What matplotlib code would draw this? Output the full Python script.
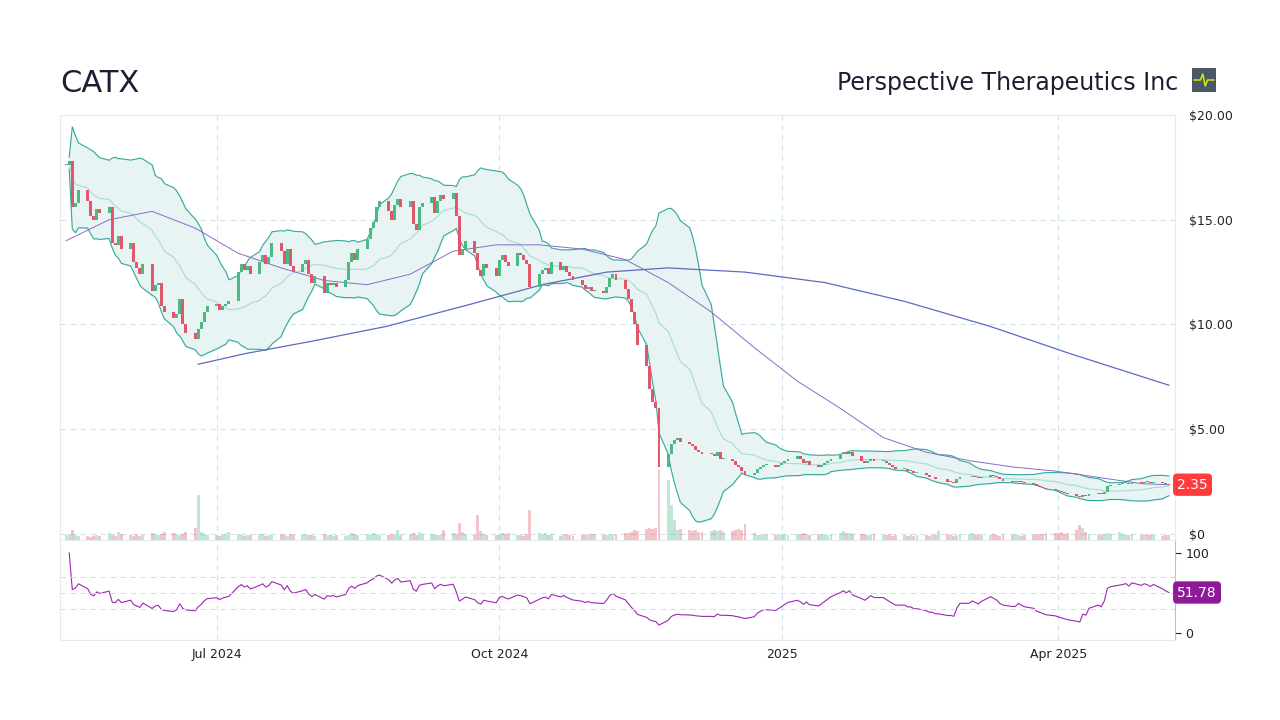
import matplotlib
matplotlib.use("Agg")
import matplotlib.pyplot as plt
import matplotlib.dates as mdates
import numpy as np
import pandas as pd

# --- Data (daily closes) ---
start_date = "2024-05-13"
close_may24 = [17.6, 17.8, 15.6, 15.8, 16.4, 15.9, 15.2, 15.0, 15.5, 15.3, 15.6, 13.9, 13.8, 14.2, 13.6]
close_jun24 = [13.9, 13.0, 12.7, 12.4, 12.9, 11.6, 11.9, 12.0, 10.9, 10.6, 10.3, 10.5, 11.2, 10.0, 9.6, 9.3, 9.8, 10.1, 10.6, 10.9]
close_jul24 = [11.0, 10.7, 10.9, 11.0, 11.1, 12.5, 12.9, 12.6, 12.8, 12.4, 13.0, 13.3, 12.9, 13.2, 13.9, 13.5, 12.9, 13.6, 12.8, 12.5, 12.9, 13.1, 12.4]
close_aug24 = [12.0, 12.3, 11.5, 12.0, 11.9, 12.0, 11.8, 12.1, 13.0, 13.4, 13.1, 13.6, 14.1, 14.6, 14.9, 15.6, 15.9, 15.4, 15.0, 15.7, 16.0, 15.6]
close_sep24 = [15.9, 14.8, 14.5, 15.6, 15.8, 16.1, 15.3, 15.9, 16.2, 16.0, 16.3, 15.2, 13.3, 13.6, 14.0, 13.4, 12.6, 12.3, 12.9, 12.7, 12.3]
close_oct24 = [13.1, 13.3, 13.0, 12.8, 13.4, 13.3, 13.1, 12.9, 11.8, 12.4, 12.6, 12.7, 12.4, 13.0, 12.6, 12.8, 12.5, 12.3, 12.1, 11.9, 11.7, 11.8, 11.6]
close_nov24 = [11.6, 11.5, 11.8, 12.2, 12.4, 12.1, 11.7, 11.2, 10.6, 10.0, 9.0, 8.0, 6.9, 6.3, 6.0, 3.2, 3.8, 4.3, 4.5, 4.6, 4.4]
close_dec24 = [4.3, 4.2, 4.0, 3.9, 3.8, 3.8, 3.7, 3.9, 3.6, 3.6, 3.5, 3.3, 3.2, 3.0, 2.8, 2.9, 3.1, 3.2, 3.3, 3.3, 3.2, 3.3]
close_jan25 = [3.4, 3.5, 3.6, 3.7, 3.6, 3.4, 3.5, 3.3, 3.2, 3.3, 3.4, 3.5, 3.6, 3.8, 3.9, 3.8, 3.9, 3.7, 3.5, 3.4, 3.5, 3.6, 3.5]
close_feb25 = [3.5, 3.4, 3.3, 3.2, 3.1, 3.1, 3.0, 3.0, 2.9, 2.9, 2.8, 2.7, 2.7, 2.6, 2.6, 2.5, 2.5, 2.45, 2.6, 2.7]
close_mar25 = [2.7, 2.75, 2.7, 2.65, 2.7, 2.8, 2.75, 2.7, 2.6, 2.55, 2.5, 2.5, 2.55, 2.5, 2.45, 2.4, 2.3, 2.25, 2.2, 2.15, 2.1]
close_apr25 = [2.05, 2.0, 1.95, 1.9, 1.8, 1.75, 1.85, 1.8, 1.9, 1.95, 1.9, 2.0, 2.3, 2.35, 2.4, 2.42, 2.45, 2.4, 2.5, 2.45, 2.5, 2.48]
close_may25 = [2.45, 2.5, 2.42, 2.38, 2.35]

vol_may24 = [1.0, 1.2, 2.0, 1.1, 0.8, 0.9, 0.7, 0.8, 1.0, 0.9, 1.4, 1.0, 0.8, 1.6, 1.2]
vol_jun24 = [1.0, 0.9, 1.3, 0.8, 1.1, 1.5, 1.2, 1.0, 1.3, 1.7, 1.4, 1.2, 1.0, 1.2, 1.6, 2.4, 9.0, 1.6, 1.2, 1.0]
vol_jul24 = [1.1, 0.9, 1.0, 1.3, 1.6, 1.2, 1.0, 0.9, 1.1, 1.0, 1.3, 1.2, 0.8, 1.1, 1.0, 1.2, 1.0, 0.9, 1.3, 1.1, 1.0, 1.2, 1.1]
vol_aug24 = [1.0, 0.9, 1.2, 1.1, 1.0, 0.9, 1.0, 0.8, 1.1, 1.4, 1.3, 1.1, 1.2, 1.0, 1.4, 1.2, 1.0, 1.1, 1.3, 1.0, 2.0, 1.1]
vol_sep24 = [1.2, 1.4, 1.0, 1.6, 1.3, 1.2, 1.0, 1.1, 1.0, 2.0, 1.4, 1.2, 3.5, 1.6, 1.2, 1.0, 5.0, 1.8, 1.2, 1.0, 1.1]
vol_oct24 = [1.3, 1.4, 1.2, 1.4, 1.0, 1.1, 0.9, 1.2, 6.0, 1.5, 1.1, 1.4, 1.0, 1.2, 0.8, 1.0, 1.3, 1.0, 0.9, 1.1, 1.0, 1.2, 1.3]
vol_nov24 = [1.2, 1.0, 1.1, 1.3, 1.0, 1.2, 1.4, 1.5, 1.6, 2.0, 1.8, 2.2, 2.5, 2.3, 2.4, 14.0, 12.0, 7.0, 4.0, 2.0, 2.3]
vol_dec24 = [2.0, 1.8, 2.1, 1.6, 1.7, 1.9, 2.0, 1.8, 2.1, 1.7, 1.9, 2.0, 2.2, 2.0, 3.2, 1.5, 1.0, 1.1, 1.0, 1.2, 1.1, 1.2]
vol_jan25 = [1.0, 1.2, 1.1, 1.3, 1.2, 1.4, 1.2, 1.1, 1.3, 1.2, 1.1, 1.0, 1.2, 1.4, 1.8, 1.5, 1.4, 1.3, 1.2, 1.3, 1.1, 1.0, 1.2]
vol_feb25 = [1.1, 1.0, 1.2, 0.9, 1.0, 1.1, 0.9, 1.0, 0.8, 1.1, 1.0, 0.9, 1.1, 1.0, 1.8, 1.2, 1.0, 0.9, 1.1, 1.2]
vol_mar25 = [1.2, 1.4, 1.1, 1.2, 1.0, 1.1, 1.2, 1.0, 0.9, 1.0, 1.1, 1.2, 1.0, 0.9, 1.0, 1.1, 1.2, 1.3, 1.2, 1.4, 1.5]
vol_apr25 = [1.4, 1.6, 1.3, 1.5, 2.0, 3.0, 2.4, 1.6, 1.3, 1.2, 1.0, 1.2, 1.5, 1.3, 1.6, 1.2, 1.0, 1.1, 1.2, 1.0, 1.1, 1.2]
vol_may25 = [1.0, 1.1, 0.9, 1.0, 1.0]

# moving averages as shown on the chart (sparse readings)
ma50_dates = ["2024-05-13", "2024-05-27", "2024-06-10", "2024-06-24", "2024-07-08", "2024-07-22",
              "2024-08-05", "2024-08-19", "2024-09-02", "2024-09-16", "2024-09-30", "2024-10-14",
              "2024-10-28", "2024-11-11", "2024-11-25", "2024-12-09", "2024-12-23", "2025-01-06",
              "2025-01-20", "2025-02-03", "2025-02-17", "2025-03-03", "2025-03-17", "2025-03-31",
              "2025-04-14", "2025-04-28", "2025-05-07"]
ma50_vals = [14.0, 15.0, 15.4, 14.6, 13.4, 12.7, 12.1, 11.9, 12.4, 13.5, 13.8, 13.8,
             13.6, 13.1, 12.0, 10.6, 8.9, 7.3, 6.0, 4.6, 3.9, 3.5, 3.2, 3.0, 2.7, 2.4, 2.35]
ma200_dates = ["2024-06-25", "2024-07-10", "2024-08-01", "2024-08-25", "2024-09-20", "2024-10-15",
               "2024-11-05", "2024-11-25", "2024-12-20", "2025-01-15", "2025-02-10", "2025-03-10",
               "2025-04-05", "2025-05-07"]
ma200_vals = [8.1, 8.6, 9.2, 9.9, 10.9, 11.9, 12.5, 12.7, 12.5, 12.0, 11.1, 9.9, 8.6, 7.1]

price_ticks = [0, 5, 10, 15, 20]
price_tick_labels = ["$0", "$5.00", "$10.00", "$15.00", "$20.00"]
x_tick_dates = ["2024-07-01", "2024-10-01", "2025-01-01", "2025-04-01"]
x_tick_labels = ["Jul 2024", "Oct 2024", "2025", "Apr 2025"]
last_price_label = "2.35"
last_rsi_label = "51.78"

close = np.array(close_may24 + close_jun24 + close_jul24 + close_aug24 + close_sep24 + close_oct24
                 + close_nov24 + close_dec24 + close_jan25 + close_feb25 + close_mar25 + close_apr25 + close_may25)
volume = np.array(vol_may24 + vol_jun24 + vol_jul24 + vol_aug24 + vol_sep24 + vol_oct24
                  + vol_nov24 + vol_dec24 + vol_jan25 + vol_feb25 + vol_mar25 + vol_apr25 + vol_may25)
dates = pd.bdate_range(start_date, periods=len(close))
x = mdates.date2num(dates)
opens = np.concatenate([[close[0]], close[:-1]])
up = close >= opens

# indicators
s = pd.Series(close)
mid = s.rolling(20, min_periods=2).mean()
sd = s.rolling(20, min_periods=2).std()
upper = mid + 2 * sd
lower = mid - 2 * sd
delta = s.diff()
gain = delta.clip(lower=0).ewm(alpha=1 / 14, adjust=False).mean()
loss = (-delta.clip(upper=0)).ewm(alpha=1 / 14, adjust=False).mean()
rsi = 100 - 100 / (1 + gain / loss)

GREEN = "#4cb884"
RED = "#e0566a"
TEAL = "#34a89a"
GRID = "#cfe3ea"

fig = plt.figure(figsize=(12.8, 7.2), dpi=100)
ax = fig.add_axes([60 / 1280, 180 / 720, 1115 / 1280, 425 / 720])
axr = fig.add_axes([60 / 1280, 80 / 720, 1115 / 1280, 100 / 720], sharex=ax)
axv = ax.twinx()

# volume
axv.bar(x, volume, width=0.95, color=np.where(up, GREEN, RED), alpha=0.35, linewidth=0)
axv.set_ylim(0, 85)
axv.axis("off")

# bollinger bands
ax.fill_between(x, lower, upper, color="#e8f4f3", zorder=1)
ax.plot(x, upper, color=TEAL, lw=0.8, zorder=2)
ax.plot(x, lower, color=TEAL, lw=0.8, zorder=2)
ax.plot(x, mid, color="#a6dcd2", lw=0.8, zorder=2)

# moving averages
ax.plot(mdates.date2num(pd.to_datetime(ma50_dates)), ma50_vals, color="#8a6bc9", lw=0.7, zorder=3)
ax.plot(mdates.date2num(pd.to_datetime(ma200_dates)), ma200_vals, color="#5c6bc0", lw=0.9, zorder=3)

# candles
body_lo = np.minimum(opens, close)
body_h = np.maximum(np.abs(close - opens), 0.04)
ax.bar(x, body_h, bottom=body_lo, width=0.95, color=np.where(up, GREEN, RED), linewidth=0, zorder=4)

ax.set_xlim(mdates.date2num(pd.Timestamp("2024-05-11")), mdates.date2num(pd.Timestamp("2025-05-09")))
ax.set_ylim(-0.29, 20)
ax.yaxis.tick_right()
ax.set_yticks(price_ticks)
ax.set_yticklabels(price_tick_labels)
ax.tick_params(axis="y", length=0, labelsize=9, colors="#222222", pad=10)
ax.tick_params(axis="x", length=0, labelbottom=False)
ax.set_xticks(mdates.date2num(pd.to_datetime(x_tick_dates)))
ax.grid(True, color=GRID, ls=(0, (5, 4)), lw=0.8)
ax.set_axisbelow(True)
for sp in ax.spines.values():
    sp.set_color("#e3ecf0")

ax.text(1.002, (2.35 + 0.29) / 20.29, last_price_label, transform=ax.transAxes, ha="left", va="center",
        color="white", fontsize=10,
        bbox=dict(boxstyle="round,pad=0.3", fc="#ff3b3b", ec="none"))

# RSI
axr.plot(x, rsi, color="#9c27b0", lw=0.8)
for lvl in (70, 50, 30):
    axr.axhline(lvl, color="#bfe6f2", ls=(0, (5, 4)), lw=0.8)
axr.set_ylim(-8.75, 116.25)
axr.yaxis.tick_right()
axr.set_yticks([0, 100])
axr.tick_params(axis="y", labelsize=9, colors="#222222", length=4)
axr.set_xticks(mdates.date2num(pd.to_datetime(x_tick_dates)))
axr.set_xticklabels(x_tick_labels)
axr.tick_params(axis="x", length=0, labelsize=9, colors="#222222", pad=6)
axr.grid(True, axis="x", color=GRID, ls=(0, (5, 4)), lw=0.8)
for sp in axr.spines.values():
    sp.set_color("#e3ecf0")
axr.spines["right"].set_color("#9fc9d4")
axr.text(1.002, (rsi.iloc[-1] + 8.75) / 125, last_rsi_label, transform=axr.transAxes, ha="left", va="center",
         color="white", fontsize=10,
         bbox=dict(boxstyle="round,pad=0.3", fc="#8e1a9a", ec="none"))

# header
fig.text(60 / 1280, 1 - 83 / 720, "CATX", fontsize=22, color="#1c1f33", va="center", ha="left")
fig.text(1178 / 1280, 1 - 83 / 720, "Perspective Therapeutics Inc", fontsize=17, color="#1c1f33",
         va="center", ha="right")
icon = fig.add_axes([1192 / 1280, 1 - 92 / 720, 24 / 1280, 24 / 720])
icon.add_patch(plt.Rectangle((0, 0), 1, 1, color="#4a5866", transform=icon.transAxes))
icon.plot([0.1, 0.35, 0.45, 0.55, 0.65, 0.9], [0.5, 0.5, 0.75, 0.25, 0.5, 0.5], color="#c6e01e", lw=1.2)
icon.set_xlim(0, 1)
icon.set_ylim(0, 1)
icon.axis("off")

fig.savefig("out.png", dpi=100)
